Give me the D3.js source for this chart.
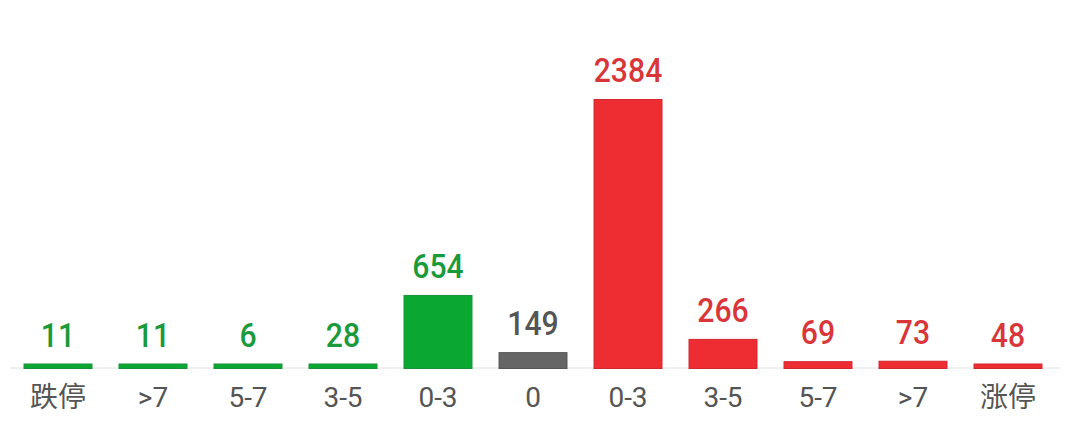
<!DOCTYPE html>
<html><head><meta charset="utf-8">
<script src="https://cdn.jsdelivr.net/npm/d3@7"></script>
<style>html,body{margin:0;padding:0;background:#fff;}svg{display:block;}</style>
</head><body>
<svg id="c" width="1071" height="429"></svg>
<script>
const categories = ["跌停", ">7", "5-7", "3-5", "0-3", "0", "0-3", "3-5", "5-7", ">7", "涨停"];
const values = [11, 11, 6, 28, 654, 149, 2384, 266, 69, 73, 48];
const groups = ["down", "down", "down", "down", "down", "flat", "up", "up", "up", "up", "up"];

const fillColor = {down: "#0aa832", flat: "#666666", up: "#ee2d33"};
const strokeColor = {down: "#17923a", flat: "#575757", up: "#d3282f"};
const textColor = {down: "#1a9a3a", flat: "#555555", up: "#d8363a"};

const W = 1071, H = 429;
const baseY = 369, topY = 99;
const svg = d3.select("#c");

const x = d3.scaleBand().domain(d3.range(categories.length)).range([10.5, 1055.5]).paddingInner(0.274).paddingOuter(0.137);
const y = d3.scaleLinear().domain([0, d3.max(values)]).range([baseY, topY]);
const minH = 5.5;
const barTop = v => Math.min(y(v), baseY - minH);

svg.append("line").attr("x1", 10).attr("x2", 1060).attr("y1", baseY - 1).attr("y2", baseY - 1)
  .attr("stroke", "#ebebeb").attr("stroke-width", 1.5);

svg.selectAll("rect.bar").data(values).join("rect").attr("class", "bar")
  .attr("x", (d, i) => x(i) + 0.5)
  .attr("width", x.bandwidth() - 1)
  .attr("y", d => barTop(d) + 0.5)
  .attr("height", d => baseY - barTop(d) - 1)
  .attr("fill", (d, i) => fillColor[groups[i]])
  .attr("stroke", (d, i) => strokeColor[groups[i]])
  .attr("stroke-width", 1);

svg.selectAll("text.val").data(values).join("text").attr("class", "val")
  .attr("transform", (d, i) => `translate(${x(i) + x.bandwidth() / 2},${barTop(d) - 17}) scale(0.9,1)`)
  .attr("text-anchor", "middle")
  .attr("font-family", "Roboto, 'DejaVu Sans', sans-serif")
  .attr("font-weight", 500)
  .attr("font-size", 33.5)
  .attr("fill", (d, i) => textColor[groups[i]])
  .text(d => d);

svg.selectAll("text.cat").data(categories).join("text").attr("class", "cat")
  .attr("x", (d, i) => x(i) + x.bandwidth() / 2)
  .attr("y", 407)
  .attr("text-anchor", "middle")
  .attr("font-family", "Roboto, 'Noto Sans CJK SC', sans-serif")
  .attr("font-size", 28)
  .attr("fill", "#555555")
  .text(d => d);
</script>
</body></html>
